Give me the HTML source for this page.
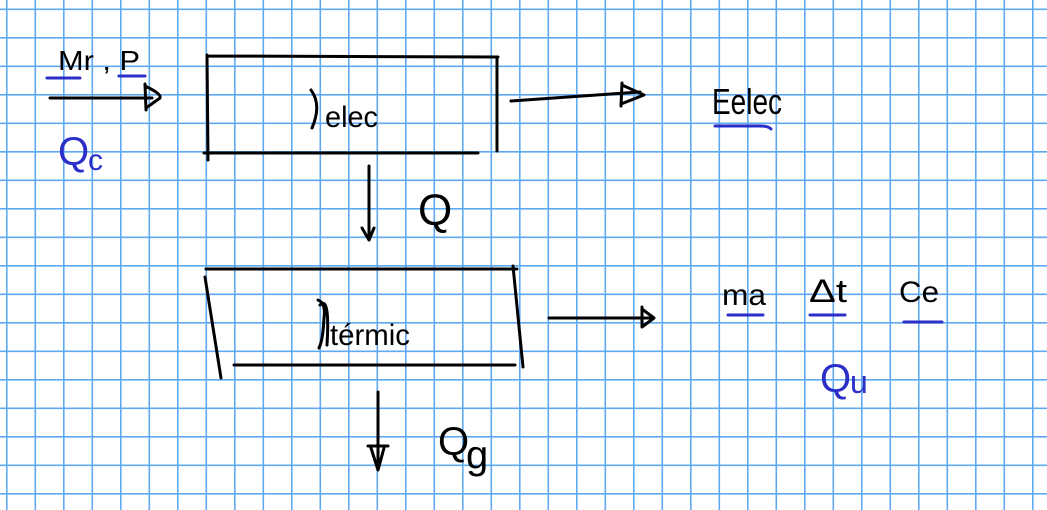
<!DOCTYPE html>
<html><head><meta charset="utf-8"><style>
html,body{margin:0;padding:0;background:#fff;}
svg{display:block}
text{font-family:"Liberation Sans",sans-serif;}
</style></head><body>
<svg width="1047" height="510" viewBox="0 0 1047 510" xmlns="http://www.w3.org/2000/svg">
<defs>
<pattern id="g" patternUnits="userSpaceOnUse" x="6" y="8.5" width="28.5" height="28.5">
<path d="M0.8 0V28.5M0 0.8H28.5" stroke="#5fa9f2" stroke-width="1.6" fill="none"/>
</pattern>
</defs>
<rect width="1047" height="510" fill="#fff"/>
<rect width="1047" height="510" fill="url(#g)"/>
<g stroke="#000" stroke-width="3" fill="none" stroke-linecap="round" stroke-linejoin="round">
<!-- left arrow -->
<path d="M50 98H152"/>
<path d="M145 84L146 110M145 86Q162 94 160 98L146 108"/>
<!-- box1 -->
<path d="M207 56L498 57M207 55L208 160M204 153L478 153M497 57L497 151"/>
<path d="M511 101L640 92"/>
<path d="M622 83L621 106M622 85L644 95L621 104"/>
<!-- down arrow 1 -->
<path d="M369 166V240M362 228L369 240L374 228"/>
<!-- box2 -->
<path d="M206 269L517 269M205 277L221 378M234 365L515 365M513 266L523 367"/>
<path d="M549 318H650M642 307V327M642 309L654 318L642 327"/>
<!-- down arrow 2 -->
<path d="M378 392V470M368 446H388M371 448L378 470L384 448"/>
<!-- eta marks -->
<path d="M311 90Q322 105 312 128"/>
<path d="M318 300Q326 303 324 318Q323 340 319 348M320 305Q330 295 327 345"/>
</g>
<g fill="#000" font-size="30">
<text x="58" y="70" font-size="28" textLength="82" lengthAdjust="spacingAndGlyphs">Mr , P</text>
<text x="325" y="127" font-size="30" textLength="53" lengthAdjust="spacingAndGlyphs">elec</text>
<text x="418" y="225" font-size="44">Q</text>
<text x="712" y="114" font-size="36" textLength="70" lengthAdjust="spacingAndGlyphs">Eelec</text>
<text x="330" y="345" font-size="30" textLength="80" lengthAdjust="spacingAndGlyphs">térmic</text>
<text x="438" y="455" font-size="40">Q</text>
<text x="466" y="468" font-size="40">g</text>
<text x="722" y="305" font-size="30" textLength="44" lengthAdjust="spacingAndGlyphs">ma</text>
<text x="809" y="302" font-size="32" textLength="38" lengthAdjust="spacingAndGlyphs">Δt</text>
<text x="899" y="302" font-size="30" textLength="40" lengthAdjust="spacingAndGlyphs">Ce</text>
</g>
<g stroke="#2b2fc7" stroke-width="3" stroke-linecap="round" fill="none">
<path d="M47 78H80M119 76H145"/>
<path d="M715 126H760Q768 126 771 129"/>
<path d="M728 315H763M810 315H845M904 322H942"/>
</g>
<g fill="#2b2fc7">
<text x="58" y="165" font-size="40">Q</text>
<text x="88" y="170" font-size="30">c</text>
<text x="820" y="392" font-size="40">Q</text>
<text x="850" y="393" font-size="32">u</text>
</g>
</svg>
</body></html>
